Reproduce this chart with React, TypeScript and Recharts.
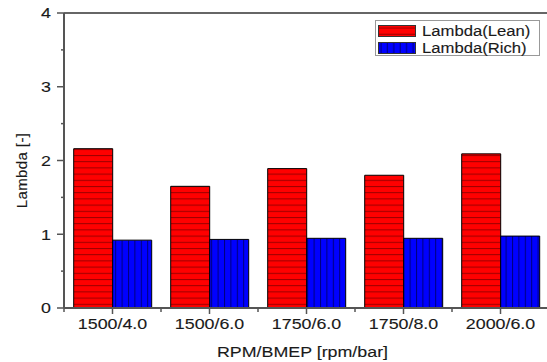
import React from 'react';
import { BarChart, Bar, XAxis, YAxis, ReferenceLine, Legend } from 'recharts';

// Operating points (engine speed / brake mean effective pressure)
const categories = ['1500/4.0', '1500/6.0', '1750/6.0', '1750/8.0', '2000/6.0'];
// Excess air ratio at the lean and rich limits
const lambdaLean = [2.16, 1.65, 1.89, 1.8, 2.09];
const lambdaRich = [0.92, 0.93, 0.945, 0.945, 0.975];
const yTicks = [0, 0.5, 1, 1.5, 2, 2.5, 3, 3.5, 4];

const seriesNames = { lean: 'Lambda(Lean)', rich: 'Lambda(Rich)' };

const data = categories.map((cond, i) => ({
  cond,
  lean: lambdaLean[i],
  rich: lambdaRich[i],
}));

const FONT = '"Liberation Sans", Arial, sans-serif';
const AXIS = '#555';
const TEXT = '#1a1a1a';
const WIDEN = 1.19;

// Horizontally widened text, as in the original artwork
const WideText = ({
  x,
  y,
  anchor = 'middle',
  size = 15,
  children,
}: {
  x: number;
  y: number;
  anchor?: 'start' | 'middle' | 'end';
  size?: number;
  children: React.ReactNode;
}) => (
  <text
    transform={`translate(${x}, ${y}) scale(${WIDEN}, 1)`}
    textAnchor={anchor}
    fontSize={size}
    fill={TEXT}
    fontFamily={FONT}
    stroke={TEXT}
    strokeWidth={0.12}
  >
    {children}
  </text>
);

const YTick = (props: any) => {
  const { x, y, payload } = props;
  const v = payload.value as number;
  const major = Number.isInteger(v);
  return (
    <g>
      <line x1={major ? x - 7 : x - 3} x2={x} y1={y} y2={y} stroke={AXIS} strokeWidth={1.5} />
      {major && (
        <WideText x={x - 13} y={y + 5.4} anchor="end">
          {v}
        </WideText>
      )}
    </g>
  );
};

const XTick = (props: any) => {
  const { x, y, payload } = props;
  const count = props.visibleTicksCount || categories.length;
  const axisWidth = typeof props.width === 'number' ? props.width : 485;
  const half = axisWidth / count / 2;
  return (
    <g>
      <line x1={x} x2={x} y1={y} y2={y + 6} stroke={AXIS} strokeWidth={1.5} />
      <line x1={x - half} x2={x - half} y1={y} y2={y + 4} stroke={AXIS} strokeWidth={1.5} />
      <WideText x={x} y={y + 21}>
        {payload.value}
      </WideText>
    </g>
  );
};

const Swatch = ({ kind }: { kind: 'lean' | 'rich' }) => {
  const id = kind === 'lean' ? 'legendLean' : 'legendRich';
  return (
    <svg width={38} height={12} style={{ display: 'block' }}>
      <defs>
        {kind === 'lean' ? (
          <pattern id={id} patternUnits="userSpaceOnUse" width={8} height={6.2}>
            <rect width={8} height={6.2} fill="#ff0000" />
            <line x1={0} x2={8} y1={3} y2={3} stroke="#9a0000" strokeWidth={1} />
          </pattern>
        ) : (
          <pattern id={id} patternUnits="userSpaceOnUse" width={6.4} height={8}>
            <rect width={6.4} height={8} fill="#0000ff" />
            <line x1={3} x2={3} y1={0} y2={8} stroke="#00007a" strokeWidth={1} />
          </pattern>
        )}
      </defs>
      <rect x={0.5} y={0.5} width={37} height={11} fill={`url(#${id})`} stroke="#333" strokeWidth={1} />
    </svg>
  );
};

const LegendBox = () => (
  <div
    style={{
      border: '1px solid #999',
      background: '#fff',
      width: 163,
      height: 34,
      boxSizing: 'content-box',
      fontFamily: FONT,
      fontSize: 14,
      color: TEXT,
      WebkitTextStroke: '0.12px #1a1a1a',
    }}
  >
    {(['lean', 'rich'] as const).map((k, i) => (
      <div
        key={k}
        style={{
          display: 'flex',
          alignItems: 'center',
          height: 18,
          marginTop: i === 0 ? 0 : -1,
          paddingLeft: 2,
          paddingTop: i === 0 ? 1 : 0,
        }}
      >
        <Swatch kind={k} />
        <span
          style={{
            marginLeft: 6,
            lineHeight: '18px',
            display: 'inline-block',
            transform: `scaleX(${WIDEN})`,
            transformOrigin: 'left center',
            whiteSpace: 'nowrap',
          }}
        >
          {seriesNames[k]}
        </span>
      </div>
    ))}
  </div>
);

export default function App() {
  return (
    <div
      style={{
        position: 'absolute',
        left: 0,
        top: 0,
        width: 547,
        height: 362,
        overflow: 'hidden',
        background: '#fff',
      }}
    >
      <BarChart
        width={560}
        height={362}
        data={data}
        margin={{ top: 13, right: 11, bottom: 0, left: 0 }}
        barGap={0}
        barCategoryGap="10%"
      >
        <defs>
          <pattern id="leanHatch" patternUnits="userSpaceOnUse" width={8} height={6.2}>
            <rect width={8} height={6.2} fill="#ff0000" />
            <line x1={0} x2={8} y1={0.5} y2={0.5} stroke="#9a0000" strokeWidth={1} />
          </pattern>
          <pattern id="richHatch" patternUnits="userSpaceOnUse" width={6.4} height={8}>
            <rect width={6.4} height={8} fill="#0000ff" />
            <line x1={0.5} x2={0.5} y1={0} y2={8} stroke="#00007a" strokeWidth={1} />
          </pattern>
        </defs>
        <XAxis
          dataKey="cond"
          height={54}
          tickSize={0}
          tickMargin={0}
          tickLine={false}
          axisLine={{ stroke: AXIS, strokeWidth: 2 }}
          tick={<XTick />}
          interval={0}
          label={({ viewBox }: any) => (
            <WideText x={viewBox.x + viewBox.width / 2 - 4} y={viewBox.y + viewBox.height - 5}>
              RPM/BMEP [rpm/bar]
            </WideText>
          )}
        />
        <YAxis
          width={64}
          domain={[0, 4]}
          ticks={yTicks}
          interval={0}
          tickSize={0}
          tickMargin={0}
          tickLine={false}
          axisLine={{ stroke: AXIS, strokeWidth: 2 }}
          tick={<YTick />}
          label={({ viewBox }: any) => {
            const cx = 27;
            const cy = viewBox.y + viewBox.height / 2 + 10;
            return (
              <text
                x={cx}
                y={cy}
                transform={`rotate(-90, ${cx}, ${cy})`}
                textAnchor="middle"
                fontSize={15}
                letterSpacing={0.4}
                fill={TEXT}
                stroke={TEXT}
                strokeWidth={0.12}
                fontFamily={FONT}
              >
                Lambda [-]
              </text>
            );
          }}
        />
        <ReferenceLine y={4} stroke="#666" strokeWidth={2} />
        <Legend
          layout="vertical"
          align="center"
          verticalAlign="middle"
          wrapperStyle={{ left: 375, top: 20, width: 165 }}
          content={() => <LegendBox />}
        />
        <Bar
          dataKey="lean"
          name={seriesNames.lean}
          fill="url(#leanHatch)"
          stroke="#000"
          strokeWidth={1}
          isAnimationActive={false}
        />
        <Bar
          dataKey="rich"
          name={seriesNames.rich}
          fill="url(#richHatch)"
          stroke="#000"
          strokeWidth={1}
          isAnimationActive={false}
        />
      </BarChart>
    </div>
  );
}
